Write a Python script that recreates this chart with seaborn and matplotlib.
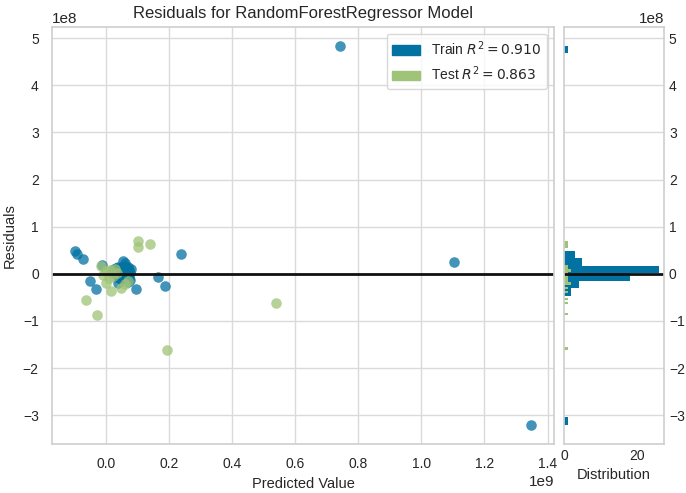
"""Residuals plot for a random forest regressor: scatter of residuals against
predicted value, with a side histogram of the residual distribution."""
import numpy as np
import matplotlib
matplotlib.use('Agg')
import matplotlib.pyplot as plt
from matplotlib.patches import Patch
import seaborn as sns

# predicted values in units of 1e9, residuals in units of 1e8
TRAIN_PRED = [
    0.742, 1.102, 1.348, 0.240, -0.098, -0.090, -0.072, -0.013, 0.055,
    0.062, 0.054, 0.050, 0.065, 0.166, -0.050, -0.030, 0.096, 0.188,
    0.040, 0.070,
    # dense cluster around zero (mostly hidden under the test points)
    0.030, 0.035, 0.040, 0.045, 0.048, 0.052, 0.055, 0.058, 0.060, 0.063,
    0.066, 0.068, 0.070, 0.072, 0.075, 0.078, 0.038, 0.042, 0.025, 0.020,
    0.058, 0.065, 0.080, 0.046, 0.033,
    0.035, 0.040, 0.045, 0.050, 0.055, 0.058, 0.062, 0.066, 0.070, 0.073,
    0.076, 0.042, 0.048, 0.060, 0.068,
]
TRAIN_RESID = [
    4.84, 0.26, -3.21, 0.41, 0.48, 0.42, 0.32, 0.19, 0.27,
    0.22, 0.13, -0.05, -0.08, -0.07, -0.16, -0.33, -0.32, -0.25,
    -0.20, -0.18,
    0.05, 0.08, 0.03, 0.11, 0.06, 0.02, 0.09, 0.04, 0.12, 0.07,
    0.03, 0.10, 0.05, 0.14, 0.08, 0.02, 0.15, 0.13, 0.10, 0.04,
    0.16, 0.15, 0.11, 0.02, 0.12,
    -0.02, -0.06, -0.10, -0.13, -0.03, -0.09, -0.12, -0.01, -0.05, -0.10,
    -0.14, -0.08, -0.04, -0.06, -0.11,
]
TEST_PRED = [
    0.101, 0.101, 0.140, -0.014, 0.012, 0.022, 0.002, 0.017, 0.049, 0.070,
    -0.061, -0.027, 0.193, 0.540, 0.000, 0.035, 0.030, -0.010, 0.060, 0.010,
]
TEST_RESID = [
    0.69, 0.56, 0.63, 0.16, 0.09, -0.05, -0.19, -0.37, -0.30, -0.16,
    -0.55, -0.87, -1.61, -0.61, 0.05, 0.01, 0.11, -0.02, -0.22, -0.10,
]
TRAIN_R2 = 0.910
TEST_R2 = 0.863

TRAIN_COLOR = '#0272a2'
TEST_COLOR = '#9fc377'
LINE_COLOR = '#111111'


def main():
    sns.set_theme(style='whitegrid')
    plt.rcParams['font.family'] = ['Liberation Sans', 'DejaVu Sans']
    plt.rcParams['axes.edgecolor'] = '#d0d0d0'
    plt.rcParams['grid.color'] = '#dadada'

    train_x = np.array(TRAIN_PRED) * 1e9
    train_y = np.array(TRAIN_RESID) * 1e8
    test_x = np.array(TEST_PRED) * 1e9
    test_y = np.array(TEST_RESID) * 1e8

    fig = plt.figure(figsize=(6.86, 4.93), dpi=100)
    ax = fig.add_axes([0.0758, 0.0994, 0.7318, 0.8464])
    hax = fig.add_axes([0.8222, 0.0994, 0.1458, 0.8464], sharey=ax)

    sns.scatterplot(x=train_x, y=train_y, color=TRAIN_COLOR, alpha=0.75,
                    s=58, linewidth=0, ax=ax)
    sns.scatterplot(x=test_x, y=test_y, color=TEST_COLOR, alpha=0.75,
                    s=58, linewidth=0, ax=ax)
    ax.axhline(0, color=LINE_COLOR, linewidth=2)

    sns.histplot(y=train_y, bins=50, color=TRAIN_COLOR, alpha=1,
                 linewidth=0, ax=hax)
    sns.histplot(y=test_y, bins=50, color=TEST_COLOR, alpha=1,
                 linewidth=0, ax=hax)
    hax.axhline(0, color=LINE_COLOR, linewidth=2)

    ax.set_title('Residuals for RandomForestRegressor Model', fontsize=12)
    ax.set_xlabel('Predicted Value', fontsize=10.5)
    ax.set_ylabel('Residuals', fontsize=10.5)
    ax.tick_params(labelsize=10)

    handles = [
        Patch(color=TRAIN_COLOR, label=f'Train $R^2 = {TRAIN_R2:.3f}$'),
        Patch(color=TEST_COLOR, label=f'Test $R^2 = {TEST_R2:.3f}$'),
    ]
    ax.legend(handles=handles, loc='upper right', fontsize=10,
              frameon=True, facecolor='white', edgecolor='#d0d0d0')

    hax.set_xticks([0, 20])
    hax.set_xlabel('Distribution', fontsize=10.5)
    hax.set_ylabel('')
    hax.grid(False, axis='x')
    hax.yaxis.tick_right()
    hax.tick_params(labelsize=10, length=0)

    fig.savefig('out.png', dpi=100)


if __name__ == '__main__':
    main()
